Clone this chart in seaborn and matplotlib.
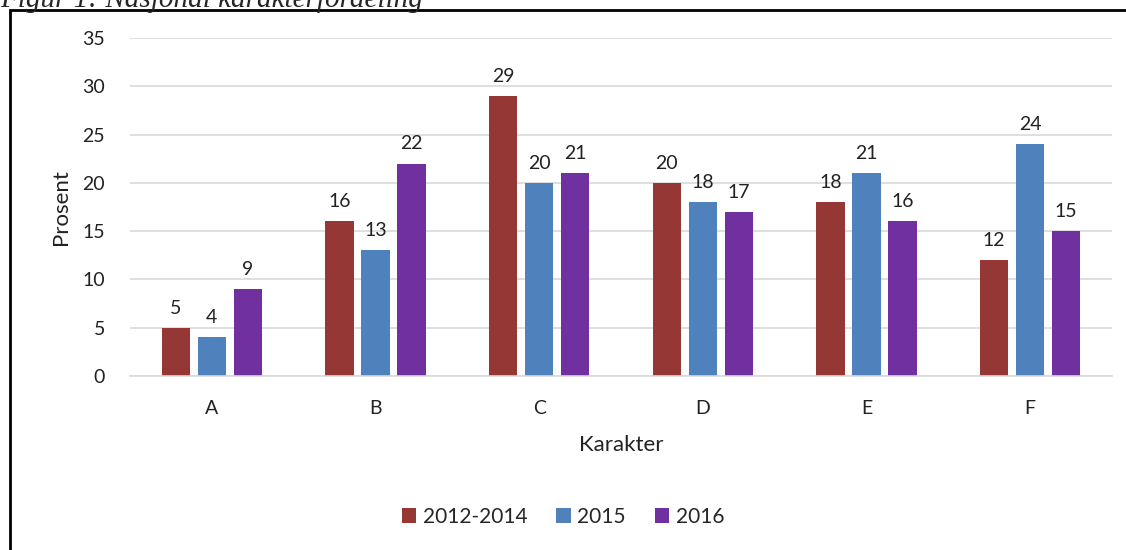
import matplotlib
matplotlib.use("Agg")
import matplotlib.pyplot as plt
import seaborn as sns
import pandas as pd
from matplotlib.patches import Rectangle

grades = ["A", "B", "C", "D", "E", "F"]
periods = ["2012-2014", "2015", "2016"]
vals_2012_2014 = [5, 16, 29, 20, 18, 12]
vals_2015 = [4, 13, 20, 18, 21, 24]
vals_2016 = [9, 22, 21, 17, 16, 15]
colors = ["#953735", "#4F81BD", "#7030A0"]

df = pd.DataFrame({
    "Karakter": grades * 3,
    "Prosent": vals_2012_2014 + vals_2015 + vals_2016,
    "Periode": [p for p in periods for _ in grades],
})

sns.set_theme(style="white")
plt.rcParams["font.family"] = ["Lato", "DejaVu Sans"]

fig = plt.figure(figsize=(11.26, 5.5), dpi=100)
ax = fig.add_axes([130 / 1126, 1 - 376 / 550, 982 / 1126, 338 / 550])

sns.barplot(data=df, x="Karakter", y="Prosent", hue="Periode",
            palette=colors, width=0.66, gap=0.22, ax=ax, saturation=1, linewidth=0)

for c in ax.containers:
    ax.bar_label(c, padding=8, fontsize=14, color="#222222")

ax.set_ylim(0, 35)
ax.set_xlim(-0.5, 5.5)
ax.set_yticks(range(0, 36, 5))
ax.yaxis.grid(True, color="#D9D9D9", linewidth=1.2)
ax.set_axisbelow(True)
for s in ["top", "right", "left"]:
    ax.spines[s].set_visible(False)
ax.spines["bottom"].set_color("#D9D9D9")
ax.spines["bottom"].set_linewidth(1.2)
ax.tick_params(axis="y", length=0, pad=18, labelsize=14, labelcolor="#222222")
ax.tick_params(axis="x", length=0, pad=17, labelsize=14, labelcolor="#222222")
ax.set_ylabel("Prosent", fontsize=16, labelpad=8, color="#222222")
ax.set_xlabel("Karakter", fontsize=16, labelpad=13, color="#222222")

ax.legend(loc="center", bbox_to_anchor=(0.5, 1 - 517 / 550), bbox_transform=fig.transFigure,
          ncol=3, frameon=False, fontsize=15, handlelength=0.7, handleheight=0.7,
          handletextpad=0.3, columnspacing=1.4)

# border box and clipped caption
fig.patches.append(Rectangle((10 / 1126, -0.1), 1.2, 1.1 - 10 / 550, transform=fig.transFigure,
                             fill=False, edgecolor="black", linewidth=2))
fig.text(0.0, 1.0, "Figur 1: Nasjonal karakterfordeling", fontsize=21, style="italic",
         family=["Liberation Serif"], ha="left", va="center")

fig.savefig("out.png", dpi=100)
